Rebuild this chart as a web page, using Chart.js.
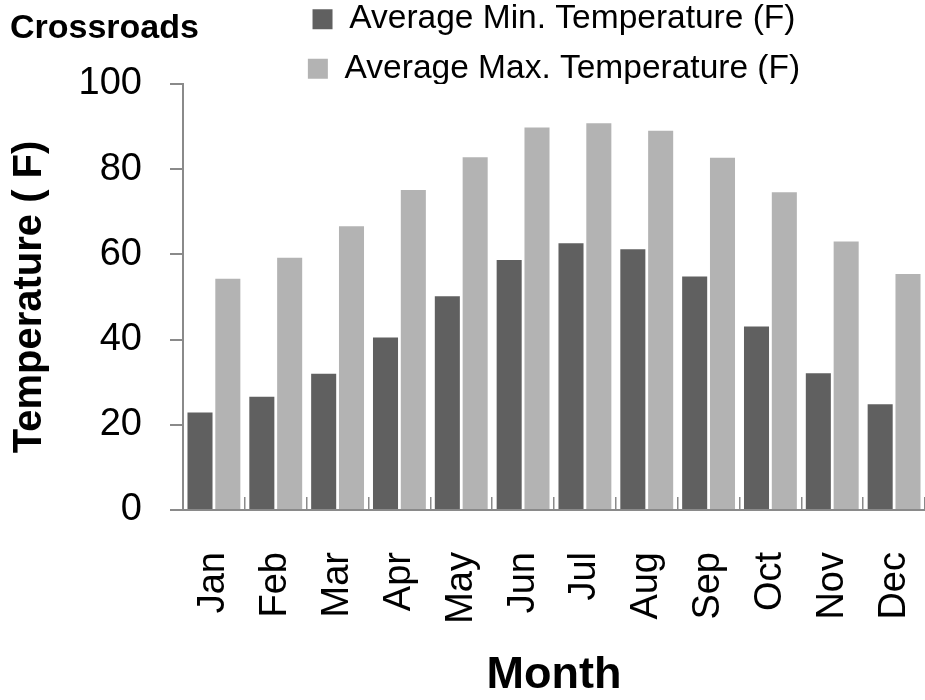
<!DOCTYPE html>
<html>
<head>
<meta charset="utf-8">
<title>Crossroads</title>
<script src="https://cdn.jsdelivr.net/npm/chart.js@4.4.1/dist/chart.umd.min.js"></script>
<style>
  html, body { margin: 0; padding: 0; background: #fff; }
  #wrap { width: 925px; height: 700px; }
</style>
</head>
<body>
<div id="wrap"><canvas id="tempChart" width="925" height="700"></canvas></div>
<script>
// Monthly averages for Crossroads (deg F)
const months = ['Jan', 'Feb', 'Mar', 'Apr', 'May', 'Jun', 'Jul', 'Aug', 'Sep', 'Oct', 'Nov', 'Dec'];
const avgMin = [22.9, 26.6, 32.0, 40.5, 50.2, 58.7, 62.6, 61.2, 54.8, 43.1, 32.1, 24.8];
const avgMax = [54.3, 59.2, 66.6, 75.1, 82.8, 89.8, 90.8, 89.0, 82.7, 74.6, 63.0, 55.4];
const yTicks = [0, 20, 40, 60, 80, 100];

const axisGray = '#8a8a8a';

Chart.defaults.font.family = "'Liberation Sans', Arial, sans-serif";
Chart.defaults.color = '#000';

new Chart(document.getElementById('tempChart'), {
    type: 'bar',
    data: {
        labels: months,
        datasets: [
            { label: 'Average Min. Temperature (F)', data: avgMin, backgroundColor: '#606060', borderWidth: 0, barPercentage: 0.9, categoryPercentage: 0.9 },
            { label: 'Average Max. Temperature (F)', data: avgMax, backgroundColor: '#b3b3b3', borderWidth: 0, barPercentage: 0.9, categoryPercentage: 0.9 }
        ]
    },
    options: {
        responsive: false,
        animation: false,
        // negative top padding pulls the legend up so its second line sits beside the 100 tick
        layout: { padding: { left: 10, right: 0, top: -13.5, bottom: 0 } },
        plugins: {
            tooltip: { enabled: false },
            // zero-height title, shares the first legend row
            title: {
                display: true, text: 'Crossroads', align: 'start', color: '#000',
                font: { size: 34, weight: 'bold', lineHeight: 1 },
                padding: { top: 25.5, bottom: -59.5 }
            },
            legend: {
                position: 'top', align: 'center', fullSize: false, maxHeight: 97.5,
                labels: { color: '#000', font: { size: 33.5 }, boxWidth: 20, boxHeight: 20, padding: 16 }
            }
        },
        scales: {
            x: {
                grid: { display: true, drawOnChartArea: false, drawTicks: true, tickLength: -13, color: axisGray, lineWidth: 1.5 },
                border: { display: true, color: axisGray, width: 2, z: 1 },
                ticks: { autoSkip: false, minRotation: 90, maxRotation: 90, padding: 55, color: '#000', font: { size: 38 } },
                title: { display: true, text: 'Month', color: '#000', font: { size: 45, weight: 'bold', lineHeight: 1 }, padding: { top: 0, bottom: 2 } },
                afterFit: s => { s.height = 190; s.paddingLeft = 0; s.paddingRight = 0; }
            },
            y: {
                min: 0, max: 100,
                afterBuildTicks: s => { s.ticks = yTicks.map(v => ({ value: v })); },
                grid: { display: true, drawOnChartArea: false, drawTicks: true, tickLength: 13, color: axisGray, lineWidth: 2 },
                border: { display: true, color: axisGray, width: 2, z: 1 },
                ticks: { padding: 28, color: '#000', font: { size: 38 } },
                title: { display: true, text: 'Temperature ( F)', color: '#000', font: { size: 40, weight: 'bold', lineHeight: 1 }, padding: { top: 0, bottom: 0 } },
                afterFit: s => { s.width = 173; }
            }
        }
    }
});
</script>
</body>
</html>
